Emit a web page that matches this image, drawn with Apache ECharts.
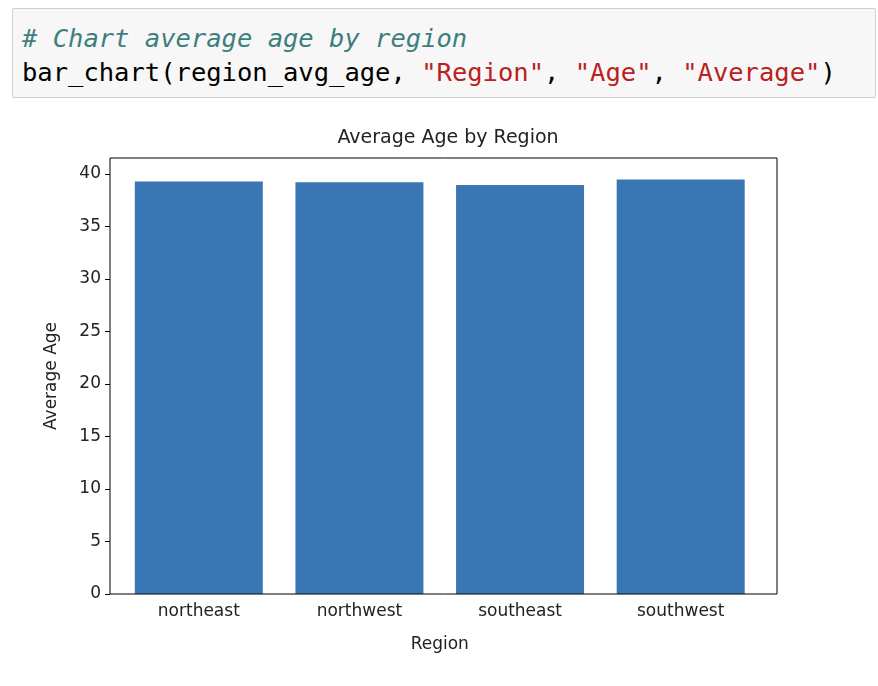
<!DOCTYPE html>
<html>
<head>
<meta charset="utf-8">
<script src="https://cdn.jsdelivr.net/npm/echarts@6/dist/echarts.min.js"></script>
<style>
  body { margin: 0; background: #fff; }
  #code {
    position: absolute; left: 12px; top: 8px; width: 864px; height: 90px;
    box-sizing: border-box; background: #f7f7f7; border: 1px solid #cfcfcf;
    border-radius: 2px; padding: 12px 0 0 9px;
    font-family: "DejaVu Sans Mono", monospace; font-size: 25.5px; line-height: 34px;
    white-space: pre; color: #000;
  }
  .c { color: #3d7f7f; font-style: italic; }
  .s { color: #ba2121; }
  #chart { position: absolute; left: 0; top: 0; width: 878px; height: 686px; }
</style>
</head>
<body>
<div id="code"><span class="c"># Chart average age by region</span>
bar_chart(region_avg_age, <span class="s">"Region"</span>, <span class="s">"Age"</span>, <span class="s">"Average"</span>)</div>
<div id="chart"></div>
<script>
const regions = ['northeast', 'northwest', 'southeast', 'southwest']
const avgAge = [39.27, 39.20, 38.94, 39.46]
const yTicks = [0, 5, 10, 15, 20, 25, 30, 35, 40]

const chart = echarts.init(document.getElementById('chart'))
const font = 'DejaVu Sans'

chart.setOption({
  animation: false,
  textStyle: { fontFamily: font },
  title: {
    text: 'Average Age by Region', left: 443, top: 124, textAlign: 'center',
    textStyle: { fontFamily: font, fontSize: 19, fontWeight: 'normal', color: '#222' }
  },
  grid: { left: 118.5, right: 117, top: 158, bottom: 92 },
  graphic: [{
    type: 'rect', shape: { x: 110, y: 158, width: 667, height: 436 }, z: 100,
    style: { fill: 'none', stroke: '#000', lineWidth: 1 }, silent: true
  }],
  xAxis: {
    type: 'category', data: regions,
    name: 'Region', nameLocation: 'middle', nameGap: 42,
    nameTextStyle: { fontFamily: font, fontSize: 17, color: '#222' },
    axisLine: { show: false },
    axisTick: { alignWithLabel: true, length: 5, lineStyle: { color: '#000' } },
    axisLabel: { fontFamily: font, fontSize: 17, color: '#222', margin: 9 }
  },
  yAxis: {
    type: 'value', min: 0, max: 41.5, offset: 8.5,
    name: 'Average Age', nameLocation: 'middle', nameGap: 50,
    nameTextStyle: { fontFamily: font, fontSize: 17, color: '#222' },
    axisLine: { show: false },
    splitLine: { show: false },
    axisTick: { show: true, length: 5, customValues: yTicks, lineStyle: { color: '#000' } },
    axisLabel: { fontFamily: font, fontSize: 17, color: '#222', margin: 9, customValues: yTicks }
  },
  series: [{
    type: 'bar', data: avgAge, barWidth: 128,
    itemStyle: { color: '#3a76b4' }
  }]
})
</script>
</body>
</html>
